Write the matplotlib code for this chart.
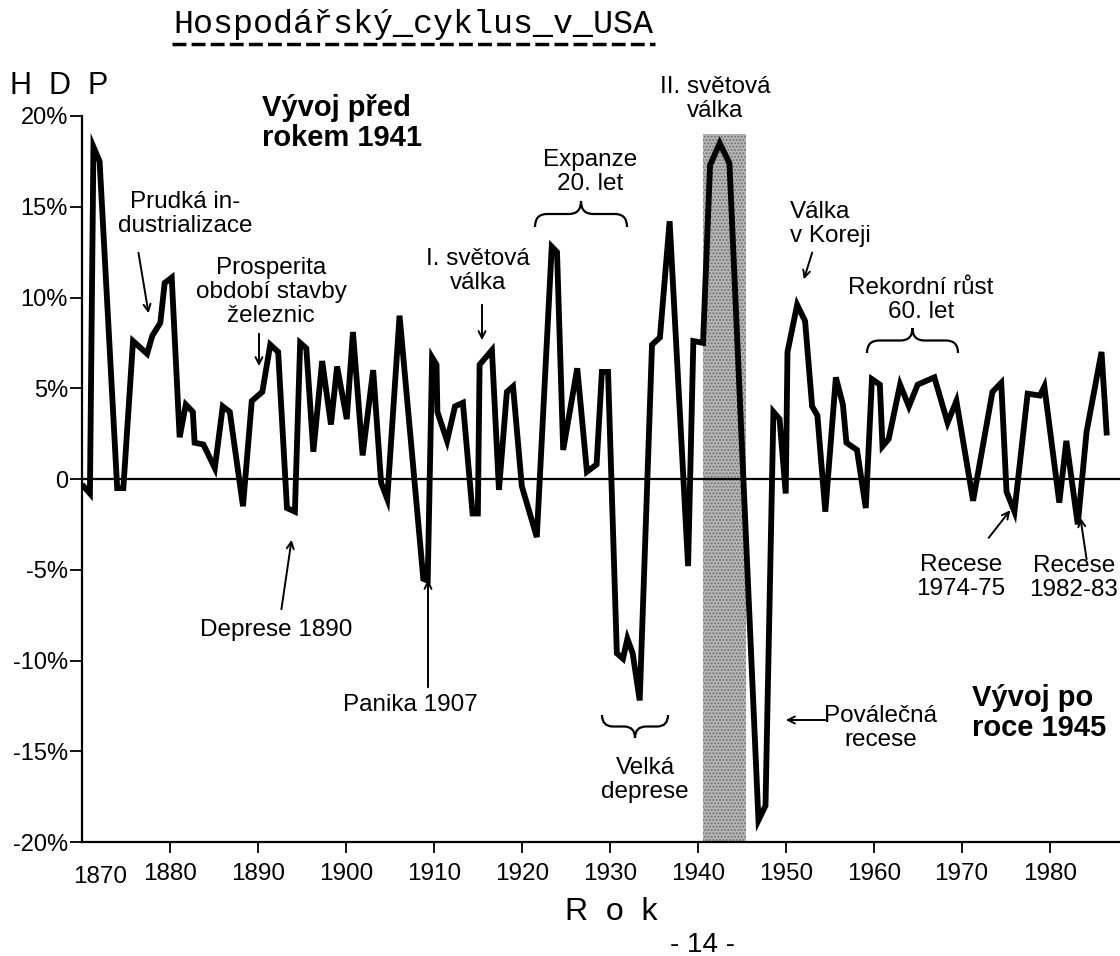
import matplotlib
matplotlib.use("Agg")
import matplotlib.pyplot as plt
from matplotlib.path import Path
from matplotlib.patches import PathPatch
from matplotlib.lines import Line2D
from matplotlib.transforms import ScaledTranslation

plt.rcParams['font.family'] = ['Liberation Sans', 'DejaVu Sans']

# roky a meziroční změna HDP (%)
roky = [1870.0, 1870.9, 1871.3, 1872.0, 1874.0, 1874.7, 1875.8, 1877.4, 1878.0, 1878.9,
        1879.4, 1880.2, 1881.1, 1881.8, 1882.6, 1882.8, 1883.8, 1885.1, 1886.0, 1886.8,
        1888.3, 1889.3, 1890.5, 1891.4, 1892.3, 1893.3, 1894.2, 1894.8, 1895.5, 1896.3,
        1897.3, 1898.3, 1899.0, 1900.1, 1900.8, 1901.9, 1903.1, 1904.0, 1904.7, 1906.1,
        1908.8, 1909.3, 1909.8, 1910.3, 1910.4, 1911.5, 1912.4, 1913.3, 1914.4, 1915.0,
        1915.2, 1916.6, 1917.4, 1918.3, 1919.0, 1920.0, 1921.7, 1923.4, 1924.0, 1924.7,
        1926.3, 1927.4, 1928.5, 1929.1, 1929.8, 1930.8, 1931.5, 1932.0, 1932.6, 1933.4,
        1934.8, 1935.7, 1936.8, 1938.9, 1939.5, 1940.6, 1941.4, 1942.5, 1943.6, 1946.9,
        1947.7, 1948.6, 1949.3, 1950.0, 1950.2, 1951.3, 1952.2, 1953.0, 1953.6, 1954.5,
        1955.7, 1956.5, 1956.9, 1958.1, 1959.1, 1959.8, 1960.7, 1961.0, 1961.7, 1963.0,
        1964.0, 1965.0, 1966.9, 1968.4, 1969.4, 1971.3, 1973.5, 1974.5, 1975.1, 1976.0,
        1977.5, 1978.9, 1979.4, 1981.1, 1981.9, 1983.2, 1984.2, 1985.9, 1986.5]
hdp = [-0.3, -0.8, 18.3, 17.5, -0.5, -0.5, 7.6, 6.9, 7.9, 8.6,
       10.8, 11.1, 2.3, 4.1, 3.7, 2.0, 1.9, 0.6, 4.0, 3.7,
       -1.5, 4.3, 4.8, 7.4, 7.0, -1.6, -1.8, 7.5, 7.2, 1.5,
       6.5, 3.0, 6.2, 3.3, 8.1, 1.3, 6.0, -0.2, -1.1, 9.0,
       -5.5, -5.6, 6.7, 6.3, 3.7, 2.1, 4.0, 4.2, -1.9, -1.9,
       6.3, 7.1, -0.6, 4.8, 5.1, -0.4, -3.2, 12.8, 12.5, 1.6,
       6.1, 0.4, 0.8, 5.9, 5.9, -9.6, -9.9, -8.8, -9.6, -12.2,
       7.4, 7.8, 14.2, -4.8, 7.6, 7.5, 17.3, 18.5, 17.4, -18.8,
       -18.0, 3.7, 3.3, -0.8, 7.0, 9.6, 8.7, 4.0, 3.5, -1.8,
       5.6, 4.1, 2.0, 1.6, -1.6, 5.5, 5.2, 1.8, 2.2, 5.2,
       4.0, 5.2, 5.6, 3.1, 4.3, -1.2, 4.8, 5.3, -0.7, -1.8,
       4.7, 4.6, 5.1, -1.3, 2.1, -2.5, 2.6, 7.0, 2.4]

valka = [1940.6, 1945.5]   # stínované období 2. světové války
y_ticks = [-20, -15, -10, -5, 0, 5, 10, 15, 20]
y_labels = ["-20%", "-15%", "-10%", "-5%", "0", "5%", "10%", "15%", "20%"]
x_ticks = [1870, 1880, 1890, 1900, 1910, 1920, 1930, 1940, 1950, 1960, 1970, 1980]

W, H = 1120, 956
fig = plt.figure(figsize=(W / 100, H / 100), dpi=100)
ax = fig.add_axes([82 / W, 1 - 842 / H, 1 - 82 / W, 726 / H])


def fp(x, y):
    return (x / W, 1 - y / H)


ax.fill_between(valka, -20, 19, facecolor='#b8b8b8', edgecolor='#707070',
                hatch='.....', linewidth=0, zorder=1)
ax.axhline(0, color='black', lw=1.6, zorder=2)
ax.plot(roky, hdp, color='black', lw=4.2, solid_joinstyle='miter',
        solid_capstyle='butt', zorder=3)

ax.set_xlim(1870, 1988)
ax.set_ylim(-20, 20)
ax.set_yticks(y_ticks)
ax.set_yticklabels(y_labels)
ax.set_xticks(x_ticks)
ax.set_xticklabels([str(r) for r in x_ticks])
for s in ['top', 'right']:
    ax.spines[s].set_visible(False)
for s in ['left', 'bottom']:
    ax.spines[s].set_linewidth(1.6)
ax.tick_params(axis='y', direction='out', length=9, width=1.3, labelsize=17, pad=1)
ax.tick_params(axis='x', direction='out', length=8, width=1.3, labelsize=17.5, pad=7)
first = ax.get_xticklabels()[0]
first.set_transform(first.get_transform() + ScaledTranslation(0.18, -0.03, fig.dpi_scale_trans))
ax.xaxis.get_major_ticks()[0].tick1line.set_visible(False)

# nadpis
fig.text(*fp(413, 33), "Hospodářský_cyklus_v_USA", family='Liberation Mono',
         fontsize=24, ha='center', va='baseline')
fig.add_artist(Line2D([172 / W, 655 / W], [1 - 44 / H] * 2, transform=fig.transFigure,
                      color='black', lw=2.5, linestyle=(0, (4, 1.5))))

fig.text(*fp(10, 86), "H  D  P", fontsize=22, ha='left', va='center')
fig.text(*fp(611, 912), "R  o  k", fontsize=23, ha='center', va='center')
fig.text(*fp(703, 945), "- 14 -", fontsize=20, ha='center', va='center')


def txt(x, y, s, **kw):
    opts = dict(fontsize=17.5, ha='center', va='center', linespacing=1.12)
    opts.update(kw)
    fig.text(*fp(x, y), s, **opts)


txt(262, 123, "Vývoj před\nrokem 1941", ha='left', fontsize=21, weight='bold', linespacing=1.05)
txt(972, 713, "Vývoj po\nroce 1945", ha='left', fontsize=21, weight='bold', linespacing=1.05)
txt(185, 214, "Prudká in-\ndustrializace")
txt(271, 292, "Prosperita\nobdobí stavby\nželeznic")
txt(478, 271, "I. světová\nválka")
txt(590, 172, "Expanze\n20. let")
txt(715, 99, "II. světová\nválka")
txt(790, 224, "Válka\nv Koreji", ha='left')
txt(921, 300, "Rekordní růst\n60. let")
txt(961, 577, "Recese\n1974-75")
txt(1074, 578, "Recese\n1982-83")
txt(276, 630, "Deprese 1890")
txt(410, 705, "Panika 1907")
txt(645, 780, "Velká\ndeprese")
txt(881, 728, "Poválečná\nrecese")

sipky = [((138, 250), (149, 316)), ((259, 331), (259, 369)), ((482, 302), (482, 343)),
         ((813, 250), (803, 282)), ((987, 540), (1012, 508)), ((1087, 562), (1080, 515)),
         ((281, 612), (292, 537)), ((428, 690), (428, 577)), ((828, 720), (783, 720))]
for a, b in sipky:
    fig.add_artist(matplotlib.patches.FancyArrowPatch(
        fp(*a), fp(*b), transform=fig.transFigure, arrowstyle='->,head_length=5,head_width=2.5',
        lw=1.4, color='black'))


def zavorka(x0, x1, y_end, y_tip):
    xm = (x0 + x1) / 2
    ym = (y_end + y_tip) / 2
    r = min(12, (x1 - x0) / 6)
    pts = [(x0, y_end), (x0, ym), (x0 + r, ym), (xm - r, ym), (xm, ym), (xm, y_tip),
           (xm, ym), (xm + r, ym), (x1 - r, ym), (x1, ym), (x1, y_end)]
    codes = [Path.MOVETO, Path.CURVE3, Path.CURVE3, Path.LINETO, Path.CURVE3, Path.CURVE3,
             Path.CURVE3, Path.CURVE3, Path.LINETO, Path.CURVE3, Path.CURVE3]
    p = PathPatch(Path([fp(*q) for q in pts], codes), transform=fig.transFigure,
                  fill=False, lw=1.6, color='black')
    fig.add_artist(p)


zavorka(535, 627, 227, 201)
zavorka(867, 958, 353, 328)
zavorka(602, 668, 715, 738)

fig.savefig("out.png", dpi=100)
